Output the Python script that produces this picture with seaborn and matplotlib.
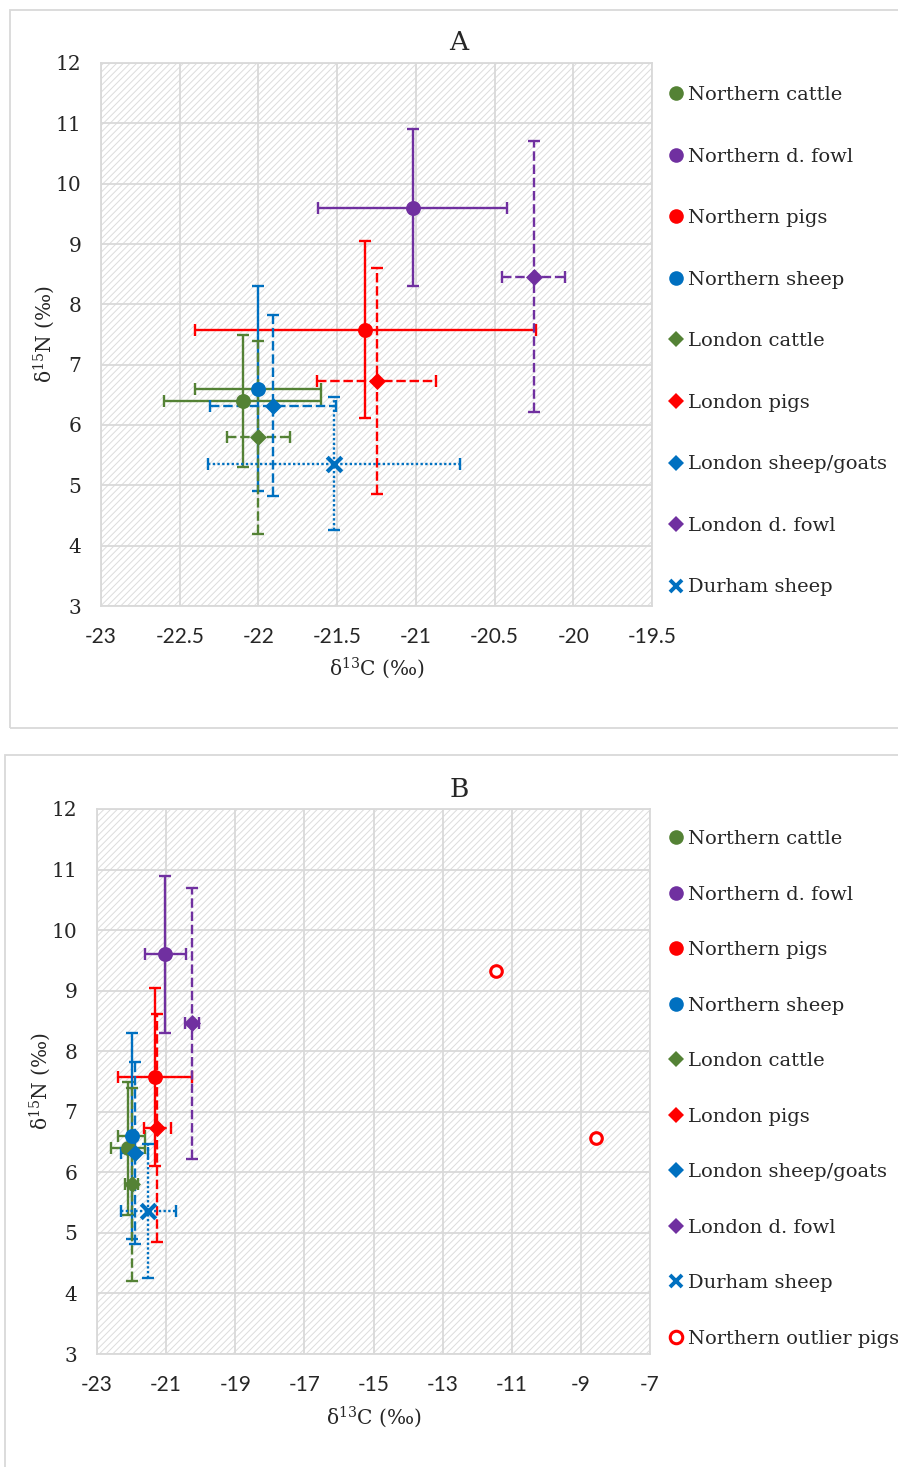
import numpy as np
import pandas as pd
import matplotlib.pyplot as plt
import seaborn as sns
from matplotlib.lines import Line2D
from matplotlib.patches import Rectangle

# ---- data (means +/- SD) ----
groups = ["Northern cattle", "Northern d. fowl", "Northern pigs", "Northern sheep",
          "London cattle", "London pigs", "London sheep/goats", "London d. fowl",
          "Durham sheep"]
d13c_mean = [-22.10, -21.02, -21.32, -22.00, -22.00, -21.25, -21.91, -20.25, -21.52]
d15n_mean = [6.40, 9.60, 7.58, 6.60, 5.80, 6.73, 6.32, 8.46, 5.36]
d13c_sd = [0.50, 0.60, 1.08, 0.40, 0.20, 0.38, 0.40, 0.20, 0.80]
d15n_sd = [1.10, 1.30, 1.47, 1.70, 1.60, 1.88, 1.50, 2.24, 1.10]

outlier_label = "Northern outlier pigs"
outlier_d13c = [-11.45, -8.57]
outlier_d15n = [9.33, 6.56]

xticks_a = [-23, -22.5, -22, -21.5, -21, -20.5, -20, -19.5]
xticks_b = [-23, -21, -19, -17, -15, -13, -11, -9, -7]
yticks = [3, 4, 5, 6, 7, 8, 9, 10, 11, 12]

# ---- styles ----
GREEN, PURPLE, RED, BLUE = "#548235", "#7030A0", "#FF0000", "#0070C0"
colors = [GREEN, PURPLE, RED, BLUE, GREEN, RED, BLUE, PURPLE, BLUE]
xbar_colors = [GREEN, PURPLE, RED, GREEN, GREEN, RED, BLUE, PURPLE, BLUE]
markers = ["o", "o", "o", "o", "D", "D", "D", "D", "x"]
sizes = [115, 115, 115, 115, 75, 75, 75, 75, 110]
bar_styles = ["-", "-", "-", "-", (0, (4, 1.6)), (0, (4, 1.6)), (0, (4, 1.6)),
              (0, (4, 1.6)), (0, (1, 1))]

df = pd.DataFrame({"group": groups, "d13C": d13c_mean, "d15N": d15n_mean,
                   "sd13C": d13c_sd, "sd15N": d15n_sd})

sns.set_style("white")
plt.rcParams["mathtext.fontset"] = "dejavuserif"
plt.rcParams["mathtext.default"] = "regular"
plt.rcParams["hatch.linewidth"] = 0.7
SERIF = ["DejaVu Serif"]
SANS = ["Lato", "DejaVu Sans"]
GRID = "#d9d9d9"

W, H = 898, 1467
fig = plt.figure(figsize=(W / 100, H / 100), dpi=100)


def rect(left, top, right, bottom):
    return [left / W, 1 - bottom / H, (right - left) / W, (bottom - top) / H]


# chart frames
fig.add_artist(Rectangle((10 / W, 1 - 728 / H), 900 / W, 718 / H, transform=fig.transFigure,
                         fill=False, edgecolor=GRID, lw=1.3))
fig.add_artist(Rectangle((5 / W, 1 - 1475 / H), 900 / W, 720 / H, transform=fig.transFigure,
                         fill=False, edgecolor=GRID, lw=1.3))

axA = fig.add_axes(rect(101, 63, 652, 606))
axB = fig.add_axes(rect(97, 809, 650, 1354))


def draw_panel(ax, xticks, with_outliers):
    ax.add_patch(Rectangle((0, 0), 1, 1, transform=ax.transAxes, facecolor="white",
                           edgecolor="#dcdcdc", hatch="/////", lw=0, zorder=0.1))
    for i, row in df.iterrows():
        eb = ax.errorbar(row["d13C"], row["d15N"], yerr=row["sd15N"], fmt="none",
                         ecolor=colors[i], elinewidth=1.7, capsize=4, capthick=1.7, zorder=2)
        eb.lines[2][0].set_linestyle(bar_styles[i])
        eb = ax.errorbar(row["d13C"], row["d15N"], xerr=row["sd13C"], fmt="none",
                         ecolor=xbar_colors[i], elinewidth=1.7, capsize=4, capthick=1.7, zorder=2)
        eb.lines[2][0].set_linestyle(bar_styles[i])
        sub = df.iloc[[i]]
        if markers[i] == "x":
            sns.scatterplot(data=sub, x="d13C", y="d15N", ax=ax, marker=markers[i], s=sizes[i],
                            color=colors[i], linewidth=3, legend=False, zorder=3)
        else:
            sns.scatterplot(data=sub, x="d13C", y="d15N", ax=ax, marker=markers[i], s=sizes[i],
                            color=colors[i], edgecolor=colors[i], linewidth=0, legend=False,
                            zorder=3)
    if with_outliers:
        sns.scatterplot(x=outlier_d13c, y=outlier_d15n, ax=ax, marker="o", s=70,
                        facecolor="white", edgecolor=RED, linewidth=2.2, zorder=3)

    ax.set_xlim(xticks[0], xticks[-1])
    ax.set_ylim(yticks[0], yticks[-1])
    ax.set_xticks(xticks)
    ax.set_xticklabels([f"{v:g}" for v in xticks], family=SANS, fontsize=15)
    ax.set_yticks(yticks)
    ax.set_yticklabels([f"{v:g}" for v in yticks], family=SERIF, fontsize=14.5)
    ax.tick_params(axis="x", length=0, pad=15)
    ax.tick_params(axis="y", length=0, pad=14)
    ax.set_axisbelow(True)
    ax.grid(True, color=GRID, lw=1.3)
    for s in ax.spines.values():
        s.set_color(GRID)
        s.set_linewidth(1.3)
    ax.set_xlabel("δ$^{13}$C (‰)", family=SERIF, fontsize=14.5)
    ax.set_ylabel("δ$^{15}$N (‰)", family=SERIF, fontsize=14.5)
    ax.xaxis.label.set_verticalalignment("center")
    ax.yaxis.label.set_verticalalignment("center")


draw_panel(axA, xticks_a, False)
draw_panel(axB, xticks_b, True)
axA.xaxis.set_label_coords(0.5, -0.114)
axA.yaxis.set_label_coords(-0.103, 0.5)
axB.xaxis.set_label_coords(0.5, -0.116)
axB.yaxis.set_label_coords(-0.103, 0.5)

fig.text(459 / W, 1 - 43 / H, "A", ha="center", va="center", family=SERIF, fontsize=19)
fig.text(459 / W, 1 - 789 / H, "B", ha="center", va="center", family=SERIF, fontsize=19)

# legends
handles = []
for i, g in enumerate(groups):
    ms = 10.5 if markers[i] == "o" else 8.5
    handles.append(Line2D([], [], linestyle="none", marker=markers[i], color=colors[i],
                          markeredgecolor=colors[i], markersize=ms,
                          markeredgewidth=2.8 if markers[i] == "x" else 0))
out_handle = Line2D([], [], linestyle="none", marker="o", markerfacecolor="white",
                    markeredgecolor=RED, markeredgewidth=2.2, markersize=9)

leg_kw = dict(loc="upper left", frameon=False, borderpad=0, borderaxespad=0,
              handlelength=0.8, handletextpad=0.23, prop={"family": SERIF, "size": 14})
fig.legend(handles, groups, bbox_to_anchor=(668 / W, 1 - 86 / H), labelspacing=2.24, **leg_kw)
fig.legend(handles + [out_handle], groups + [outlier_label],
           bbox_to_anchor=(668 / W, 1 - 830 / H), labelspacing=1.93, **leg_kw)

fig.savefig("out.png", dpi=100)
